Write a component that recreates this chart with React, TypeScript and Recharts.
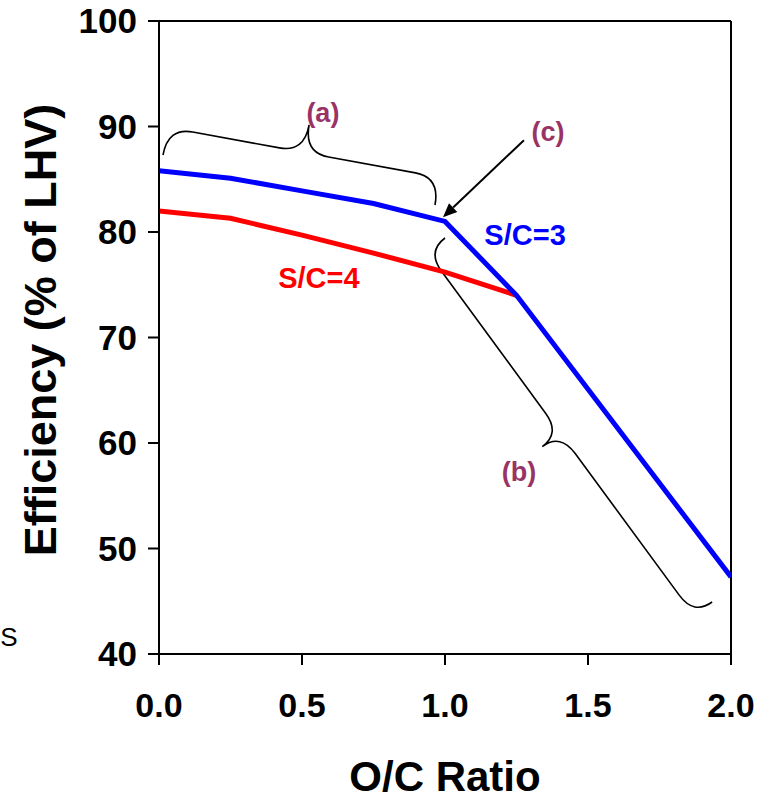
import React from 'react';
import { LineChart, Line, XAxis, YAxis, ReferenceLine, ReferenceDot, Customized } from 'recharts';

// ---- data ----
const sc3Ratio = [0, 0.25, 0.5, 0.75, 1.0, 1.25, 2.0];
const sc3Eff = [85.8, 85.1, 83.9, 82.7, 81.0, 74.0, 47.3];
const sc4Ratio = [0, 0.25, 0.5, 0.75, 1.0, 1.25];
const sc4Eff = [82.0, 81.3, 79.7, 78.0, 76.2, 74.0];
const xTicks = [0, 0.5, 1.0, 1.5, 2.0];
const yTicks = [40, 50, 60, 70, 80, 90, 100];

const sc3Data = sc3Ratio.map((x, i) => ({ x, y: sc3Eff[i] }));
const sc4Data = sc4Ratio.map((x, i) => ({ x, y: sc4Eff[i] }));

// annotation anchors (data units)
const braceA = [{ x: 0.014, y: 87.3 }, { x: 0.965, y: 82.56 }];
const braceB = [{ x: 1.0, y: 79.43 }, { x: 1.934, y: 44.93 }];
const arrowC = [{ x: 1.276, y: 88.7 }, { x: 0.993, y: 81.4 }];
const labels = [
  { x: 0.573, y: 91.28, text: '(a)', color: '#993366', size: 27 },
  { x: 1.36, y: 89.48, text: '(c)', color: '#993366', size: 27 },
  { x: 1.259, y: 57.25, text: '(b)', color: '#993366', size: 27 },
  { x: 1.28, y: 79.72, text: 'S/C=3', color: '#0000FF', size: 29 },
  { x: 0.559, y: 75.64, text: 'S/C=4', color: '#FF0000', size: 29 },
];

const FONT = '"Liberation Sans", Arial, Helvetica, sans-serif';

const braceShape = (depth: number, sign: number, w: number) => (p: any) => {
  const { x1, y1, x2, y2 } = p;
  const dx = x2 - x1, dy = y2 - y1;
  const L = Math.hypot(dx, dy);
  const ux = dx / L, uy = dy / L;
  const nx = sign * uy, ny = -sign * ux;
  const h = depth / 2;
  const mx = (x1 + x2) / 2, my = (y1 + y2) / 2;
  const pt = (x: number, y: number) => `${x.toFixed(1)},${y.toFixed(1)}`;
  const d = [
    `M${pt(x1, y1)}`,
    `Q${pt(x1 + nx * h, y1 + ny * h)} ${pt(x1 + nx * h + ux * w, y1 + ny * h + uy * w)}`,
    `L${pt(mx - ux * w + nx * h, my - uy * w + ny * h)}`,
    `Q${pt(mx + nx * h, my + ny * h)} ${pt(mx + nx * depth, my + ny * depth)}`,
    `Q${pt(mx + nx * h, my + ny * h)} ${pt(mx + ux * w + nx * h, my + uy * w + ny * h)}`,
    `L${pt(x2 - ux * w + nx * h, y2 - uy * w + ny * h)}`,
    `Q${pt(x2 + nx * h, y2 + ny * h)} ${pt(x2, y2)}`,
  ].join(' ');
  return <path d={d} fill="none" stroke="#000" strokeWidth={1.6} />;
};

const arrowShape = (p: any) => {
  const { x1, y1, x2, y2 } = p;
  const dx = x2 - x1, dy = y2 - y1;
  const L = Math.hypot(dx, dy);
  const ux = dx / L, uy = dy / L;
  const len = 14, hw = 6;
  const bx = x2 - ux * len, by = y2 - uy * len;
  const pts = `${x2},${y2} ${bx - uy * hw},${by + ux * hw} ${bx + uy * hw},${by - ux * hw}`;
  return (
    <g>
      <line x1={x1} y1={y1} x2={bx} y2={by} stroke="#000" strokeWidth={2} />
      <polygon points={pts} fill="#000" />
    </g>
  );
};

const labelShape = (text: string, color: string, size: number) => (p: any) => (
  <text x={p.cx} y={p.cy} textAnchor="middle" dominantBaseline="central"
    fill={color} fontSize={size} fontWeight="bold" fontFamily={FONT}>{text}</text>
);

const Titles = () => (
  <g>
    <text x={40} y={330} transform="rotate(-90 40 330)" textAnchor="middle" dominantBaseline="central"
      fontSize={45} fontWeight="bold" fontFamily={FONT} fill="#000">Efficiency (% of LHV)</text>
    <text x={445} y={776} textAnchor="middle" dominantBaseline="central"
      fontSize={42} fontWeight="bold" fontFamily={FONT} fill="#000">O/C Ratio</text>
    <text x={9} y={637} textAnchor="middle" dominantBaseline="central"
      fontSize={26} fontFamily={FONT} fill="#000">S</text>
  </g>
);

export default function App() {
  return (
    <div style={{ position: 'absolute', left: 0, top: 0, width: 757, height: 799, background: '#fff' }}>
      <LineChart width={757} height={799} margin={{ top: 21, right: 26, bottom: 0, left: 0 }}>
        <XAxis type="number" dataKey="x" domain={[0, 2]} ticks={xTicks} allowDataOverflow
          tickFormatter={(v: number) => v.toFixed(1)} height={145}
          tickSize={11} tickMargin={28} axisLine={{ stroke: '#000', strokeWidth: 2 }}
          tickLine={{ stroke: '#000', strokeWidth: 2 }}
          tick={{ fill: '#000', fontSize: 34, fontWeight: 'bold', fontFamily: FONT }} />
        <YAxis type="number" dataKey="y" domain={[40, 100]} ticks={yTicks} allowDataOverflow
          width={159} tickSize={11} tickMargin={11} axisLine={{ stroke: '#000', strokeWidth: 2 }}
          tickLine={{ stroke: '#000', strokeWidth: 2 }}
          tick={{ fill: '#000', fontSize: 35, fontWeight: 'bold', fontFamily: FONT }} />
        <ReferenceLine y={100} stroke="#000" strokeWidth={2} />
        <ReferenceLine x={2} stroke="#000" strokeWidth={2} />
        <ReferenceLine segment={braceA} shape={braceShape(56, 1, 25)} />
        <ReferenceLine segment={braceB} shape={braceShape(45, -1, 25)} />
        <ReferenceLine segment={arrowC} shape={arrowShape} />
        <Line data={sc4Data} dataKey="y" type="linear" stroke="#FF0000" strokeWidth={5} dot={false}
          isAnimationActive={false} />
        <Line data={sc3Data} dataKey="y" type="linear" stroke="#0000FF" strokeWidth={5} dot={false}
          isAnimationActive={false} />
        {labels.map((l) => (
          <ReferenceDot key={l.text} x={l.x} y={l.y} r={0} shape={labelShape(l.text, l.color, l.size)} />
        ))}
        <Customized component={<Titles />} />
      </LineChart>
    </div>
  );
}
